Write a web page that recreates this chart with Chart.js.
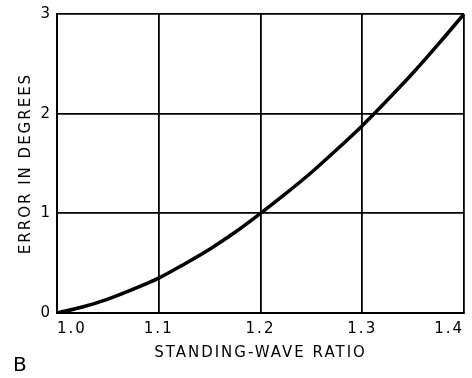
<!DOCTYPE html>
<html>
<head>
<meta charset="utf-8">
<script src="https://cdn.jsdelivr.net/npm/chart.js@4/dist/chart.umd.min.js"></script>
<style>
html,body{margin:0;padding:0;background:#fff;}
#wrap{width:472px;height:378px;position:relative;}
</style>
</head>
<body>
<div id="wrap"><canvas id="c" width="472" height="378"></canvas></div>
<script>
const swr = [1.0, 1.025, 1.05, 1.075, 1.1, 1.125, 1.15, 1.175, 1.2, 1.225, 1.25, 1.275, 1.3, 1.325, 1.35, 1.375, 1.4];
const errorDeg = [0, 0.06, 0.14, 0.24, 0.35, 0.49, 0.64, 0.81, 1.0, 1.2, 1.41, 1.64, 1.88, 2.14, 2.41, 2.7, 3.0];
const xTicks = ['1.0', '1.1', '1.2', '1.3', '1.4'];
const yTicks = ['0', '1', '2', '3'];
const xTitle = 'STANDING-WAVE RATIO';
const yTitle = 'ERROR IN DEGREES';
const panelLabel = 'B';

const FONT = 'DejaVu Sans';

const panelPlugin = {
  id: 'panel',
  beforeDraw(chart) {
    chart.ctx.letterSpacing = '2px';
  },
  afterDraw(chart) {
    const ctx = chart.ctx;
    ctx.save();
    ctx.letterSpacing = '0px';
    ctx.fillStyle = '#000';
    ctx.font = '20px "' + FONT + '"';
    ctx.textAlign = 'left';
    ctx.textBaseline = 'middle';
    ctx.fillText(panelLabel, 13, 366);
    ctx.restore();
    ctx.letterSpacing = '0px';
  }
};

new Chart(document.getElementById('c'), {
  type: 'line',
  data: {
    datasets: [{
      data: swr.map((x, i) => ({x: x, y: errorDeg[i]})),
      borderColor: '#000',
      borderWidth: 3.5,
      pointRadius: 0,
      tension: 0.4,
      cubicInterpolationMode: 'monotone',
      fill: false
    }]
  },
  options: {
    responsive: false,
    animation: false,
    devicePixelRatio: 1,
    layout: {padding: {top: 13, right: 8, bottom: 0, left: 0}},
    plugins: {legend: {display: false}, tooltip: {enabled: false}},
    scales: {
      x: {
        type: 'linear',
        min: 1.0,
        max: 1.4,
        afterFit(s) { s.height = 65; },
        afterBuildTicks(s) { s.ticks = xTicks.map(t => ({value: parseFloat(t)})); },
        ticks: {
          callback: (v) => Number(v).toFixed(1),
          color: '#000',
          font: {family: FONT, size: 15},
          padding: 7,
          maxRotation: 0,
          autoSkip: false,
          align: 'inner'
        },
        grid: {color: '#000', lineWidth: 1.8, drawTicks: false},
        border: {color: '#000', width: 2},
        title: {display: true, text: xTitle, color: '#000', font: {family: FONT, size: 15}, padding: {top: 0, bottom: 16}}
      },
      y: {
        type: 'linear',
        min: 0,
        max: 3,
        afterFit(s) { s.width = 57; },
        afterBuildTicks(s) { s.ticks = yTicks.map(t => ({value: parseFloat(t)})); },
        ticks: {
          callback: (v) => String(v),
          color: '#000',
          font: {family: FONT, size: 15},
          padding: 5
        },
        grid: {color: '#000', lineWidth: 1.8, drawTicks: false},
        border: {color: '#000', width: 2},
        title: {display: true, text: yTitle, color: '#000', font: {family: FONT, size: 15}, padding: {top: 17, bottom: 0}}
      }
    }
  },
  plugins: [panelPlugin]
});
</script>
</body>
</html>
